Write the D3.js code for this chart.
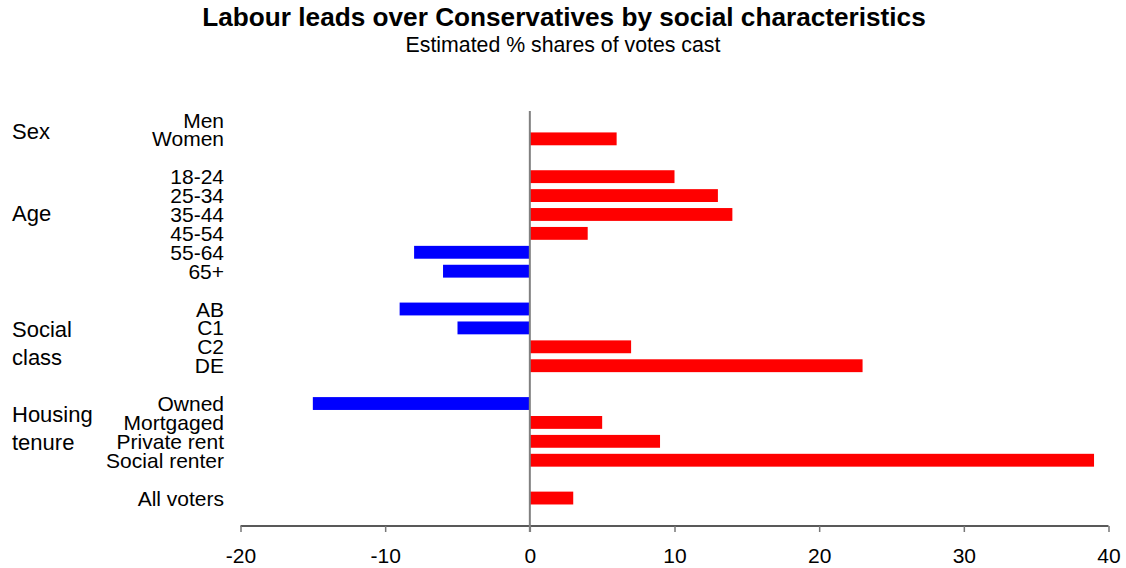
<!DOCTYPE html>
<html><head><meta charset="utf-8">
<script src="https://cdn.jsdelivr.net/npm/d3@7"></script>
<style>body{margin:0;background:#fff}svg{display:block;font-family:"Liberation Sans",Arial,sans-serif}</style>
</head><body><svg id="c" width="1126" height="568"></svg>
<script>
const categories = ["Men","Women","18-24","25-34","35-44","45-54","55-64","65+","AB","C1","C2","DE","Owned","Mortgaged","Private rent","Social renter","All voters"];
const values = [0,6,10,13,14,4,-8,-6,-9,-5,7,23,-15,5,9,39,3];
const groupNames = [["Sex"],["Age"],["Social","class"],["Housing","tenure"],[]];
const groupSizes = [2,6,4,4,1];
const xTicks = [-20,-10,0,10,20,30,40];

const svg = d3.select("#c");
const slots = [];
const catSlot = [];
const groupSlots = [];
groupSizes.forEach((n,gi)=>{
  const first = slots.length;
  for(let i=0;i<n;i++){ catSlot.push(slots.length); slots.push("s"+slots.length); }
  groupSlots.push([first, slots.length-1]);
  if(gi<groupSizes.length-1) slots.push("s"+slots.length);
});

const x = d3.scaleLinear().domain([-20,40]).range([240.5,1108.5]);
const y = d3.scaleBand().domain(slots).range([110.5,507.5]).paddingInner(0.32).paddingOuter(0.16);

svg.append("text").attr("x",564).attr("y",26).attr("text-anchor","middle")
  .attr("font-size",26.2).attr("font-weight","bold").text("Labour leads over Conservatives by social characteristics");
svg.append("text").attr("x",563).attr("y",52).attr("text-anchor","middle")
  .attr("font-size",21.3).text("Estimated % shares of votes cast");

svg.append("g").selectAll("rect").data(values).join("rect")
  .attr("x",d=>x(Math.min(0,d)))
  .attr("width",d=>Math.abs(x(d)-x(0)))
  .attr("y",(d,i)=>y(slots[catSlot[i]]))
  .attr("height",y.bandwidth())
  .attr("fill",d=>d<0?"#0000ff":"#ff0000");

const ax = svg.append("g").attr("transform","translate(0,526)")
  .call(d3.axisBottom(x).tickValues(xTicks).tickSize(6).tickPadding(16).tickFormat(d=>String(d)));
ax.select(".domain").attr("stroke","#222").attr("stroke-width",1.5).attr("d",`M${x(-20)},0H${x(40)}`);
ax.selectAll(".tick line").attr("stroke","#777").attr("stroke-width",1.5);
ax.selectAll(".tick text").attr("font-size",21).attr("fill","#000").attr("font-family","Liberation Sans, Arial, sans-serif");

svg.append("line").attr("x1",x(0)).attr("x2",x(0)).attr("y1",111).attr("y2",532)
  .attr("stroke","#808080").attr("stroke-width",2);

svg.append("g").selectAll("text").data(categories).join("text")
  .attr("x",224).attr("y",(d,i)=>y(slots[catSlot[i]])+y.bandwidth()/2)
  .attr("dy","0.36em").attr("text-anchor","end").attr("font-size",21).text(d=>d);

const groupLabelCenters = [
  (y(slots[groupSlots[0][0]])+y(slots[groupSlots[0][1]]))/2 + y.bandwidth()/2 + 2,
  y(slots[groupSlots[1][0]]) + y.step()*2 + y.bandwidth()/2 - 1,
  (y(slots[groupSlots[2][0]])+y(slots[groupSlots[2][1]]))/2 + y.bandwidth()/2 + 6,
  (y(slots[groupSlots[3][0]])+y(slots[groupSlots[3][1]]))/2 + y.bandwidth()/2 - 4
];
groupNames.forEach((lines,gi)=>{
  if(!lines.length) return;
  const cy = groupLabelCenters[gi];
  const lh = 28;
  lines.forEach((t,li)=>{
    svg.append("text").attr("x",12).attr("y",cy + (li-(lines.length-1)/2)*lh)
      .attr("dy","0.36em").attr("font-size",22).text(t);
  });
});
</script></body></html>
